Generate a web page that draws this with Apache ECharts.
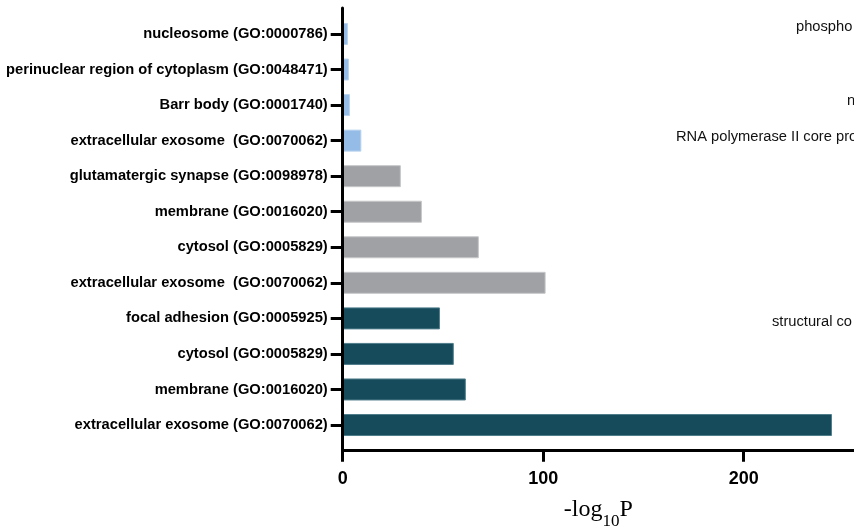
<!DOCTYPE html>
<html>
<head>
<meta charset="utf-8">
<script src="https://cdn.jsdelivr.net/npm/echarts@6/dist/echarts.min.js"></script>
<style>html,body{margin:0;padding:0;background:#fff}#c{width:854px;height:531px}</style>
</head>
<body>
<div id="c"></div>
<script>
// Categories listed top to bottom
const categories = [
  'nucleosome (GO:0000786)',
  'perinuclear region of cytoplasm (GO:0048471)',
  'Barr body (GO:0001740)',
  'extracellular exosome  (GO:0070062)',
  'glutamatergic synapse (GO:0098978)',
  'membrane (GO:0016020)',
  'cytosol (GO:0005829)',
  'extracellular exosome  (GO:0070062)',
  'focal adhesion (GO:0005925)',
  'cytosol (GO:0005829)',
  'membrane (GO:0016020)',
  'extracellular exosome (GO:0070062)'
];
const values = [2.6, 3.1, 3.6, 9.3, 29.0, 39.5, 67.9, 101.2, 48.5, 55.4, 61.4, 244];
const groups = ['light','light','light','light','gray','gray','gray','gray','dark','dark','dark','dark'];
const xTicks = [0, 100, 200];
const sideTexts = ['phospho', 'n', 'RNA polymerase II core pro', 'structural co'];

const palette = {
  light: {color: '#94bce6', border: '#b9d3ef'},
  gray:  {color: '#a0a1a5', border: '#c6c7c9'},
  dark:  {color: '#164b5c', border: '#4f7d8b'}
};
const sidePos = [[796, 27], [847, 101], [676, 137], [772, 322]];

const chart = echarts.init(document.getElementById('c'), null, {renderer: 'canvas'});
const FONT = '"Liberation Sans", Arial, sans-serif';
const gridLeft = 342.7;

chart.setOption({
  animation: false,
  backgroundColor: '#ffffff',
  grid: [
    {left: gridLeft, right: 0, top: 16.2, bottom: 88.2, containLabel: false, outerBoundsMode: 'none'},
    {left: gridLeft, right: 0, top: 8, bottom: 81, containLabel: false, outerBoundsMode: 'none'}
  ],
  xAxis: [
    {
      gridIndex: 0, type: 'value', min: xTicks[0], max: 255, interval: xTicks[1] - xTicks[0],
      offset: 7,
      axisLine: {show: true, lineStyle: {color: '#000', width: 3}},
      axisTick: {show: true, length: 12, lineStyle: {color: '#000', width: 3}},
      axisLabel: {show: true, showMaxLabel: false, margin: 20, color: '#000', fontWeight: 'bold', fontSize: 18, fontFamily: FONT},
      splitLine: {show: false},
      name: '{a|-log}{b|10}{a|P}',
      nameLocation: 'middle',
      nameGap: 42,
      nameTextStyle: {
        rich: {
          a: {fontFamily: '"Liberation Serif", "Times New Roman", serif', fontSize: 24, color: '#000', verticalAlign: 'bottom', lineHeight: 30},
          b: {fontFamily: '"Liberation Serif", "Times New Roman", serif', fontSize: 17, color: '#000', verticalAlign: 'bottom', lineHeight: 24, padding: [0, 0, -8, 0]}
        }
      }
    },
    {gridIndex: 1, type: 'value', show: false, min: 0, max: 1}
  ],
  yAxis: [
    {
      gridIndex: 0, type: 'category', inverse: true, data: categories,
      axisLine: {show: false},
      axisTick: {show: true, alignWithLabel: true, length: 12, lineStyle: {color: '#000', width: 3}},
      axisLabel: {
        margin: 15, color: '#000', fontWeight: 'bold', fontSize: 14.7, fontFamily: FONT,
        formatter: function (v, i) { return categories[i]; }
      },
      splitLine: {show: false}
    },
    {
      gridIndex: 1, type: 'value', min: 0, max: 1, z: 5,
      axisLine: {show: true, lineStyle: {color: '#000', width: 3}},
      axisTick: {show: false}, axisLabel: {show: false}, splitLine: {show: false}
    }
  ],
  series: [{
    type: 'bar',
    xAxisIndex: 0, yAxisIndex: 0,
    barWidth: 22,
    data: values.map(function (v, i) {
      const p = palette[groups[i]];
      return {value: v, itemStyle: {color: p.color, borderColor: p.border, borderWidth: 1}};
    })
  }],
  graphic: sideTexts.map(function (t, i) {
    return {
      type: 'text', left: sidePos[i][0], top: sidePos[i][1] - 8,
      style: {text: t, fill: '#111', font: '14.7px "Liberation Sans", Arial, sans-serif'}
    };
  })
});
</script>
</body>
</html>
